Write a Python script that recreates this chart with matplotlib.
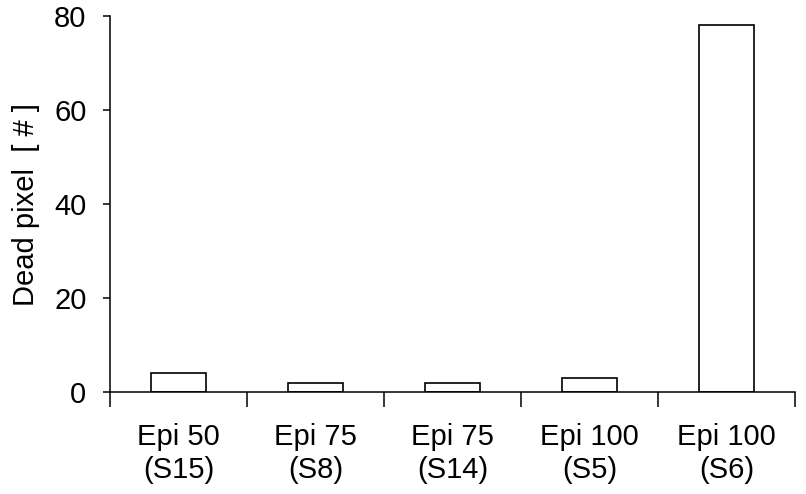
import numpy as np
import matplotlib
matplotlib.use("Agg")
import matplotlib.pyplot as plt

plt.rcParams['font.family'] = ['Liberation Sans', 'DejaVu Sans']

# data
categories = ["Epi 50\n(S15)", "Epi 75\n(S8)", "Epi 75\n(S14)", "Epi 100\n(S5)", "Epi 100\n(S6)"]
dead_pixels = [4, 2, 2, 3, 78]
y_ticks = [0, 20, 40, 60, 80]

fig = plt.figure(figsize=(8.06, 4.94), dpi=100)
ax = fig.add_axes([0.1365, 0.2065, 0.85, 0.761])

x = np.arange(len(categories)) + 0.5
ax.bar(x, dead_pixels, width=0.4, color='white', edgecolor='black', linewidth=1.2)

ax.set_xlim(0, len(categories))
ax.set_ylim(0, 80)
ax.set_yticks(y_ticks)
ax.set_xticks(x)
ax.set_xticklabels(categories, fontsize=21, linespacing=1.25)
ax.set_xticks(np.arange(len(categories) + 1), minor=True)
ax.tick_params(axis='x', which='major', length=0, pad=22)
ax.tick_params(axis='x', which='minor', length=11, width=1.1, direction='out')
ax.tick_params(axis='y', length=5, width=1.1, direction='out', labelsize=21, pad=12)
ax.set_ylabel("Dead pixel  [ # ]", fontsize=21, labelpad=10)

for s in ['top', 'right']:
    ax.spines[s].set_visible(False)
for s in ['left', 'bottom']:
    ax.spines[s].set_linewidth(1.1)

fig.savefig("out.png", dpi=100, facecolor='white')
